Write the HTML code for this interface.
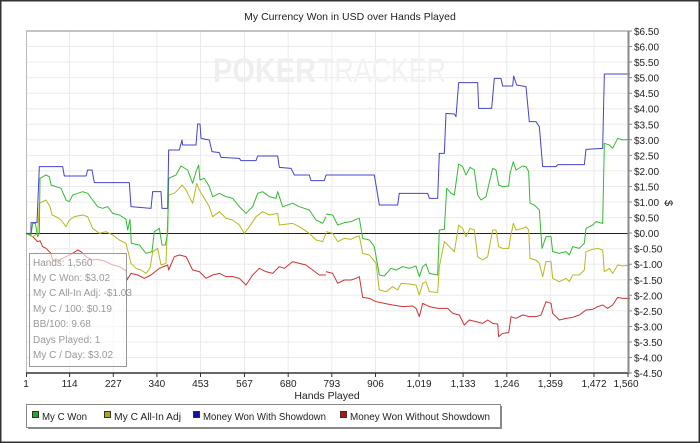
<!DOCTYPE html>
<html><head><meta charset="utf-8"><style>
html,body{margin:0;padding:0;background:#fff;}
svg{display:block;font-family:"Liberation Sans",sans-serif;}
</style></head><body>
<svg width="700" height="443" viewBox="0 0 700 443" xmlns="http://www.w3.org/2000/svg">
<rect x="0.5" y="0.5" width="699" height="442" fill="#fff" stroke="#333" stroke-width="2"/>
<text x="350" y="20" font-size="10.5" text-anchor="middle" fill="#222">My Currency Won in USD over Hands Played</text>
<g stroke="#ebebeb" stroke-width="1">
<path d="M69.6 31V373M113.3 31V373M156.9 31V373M200.5 31V373M244.5 31V373M288.2 31V373M331.8 31V373M375.5 31V373M419.1 31V373M463.1 31V373M506.8 31V373M550.4 31V373M594 31V373"/>
<path d="M26 46.5H628M26 62H628M26 77.6H628M26 93.2H628M26 108.7H628M26 124.3H628M26 139.8H628M26 155.4H628M26 170.9H628M26 186.5H628M26 202H628M26 217.6H628M26 248.7H628M26 264.2H628M26 279.8H628M26 295.3H628M26 310.9H628M26 326.5H628M26 342H628M26 357.5H628"/>
</g>
<text x="213" y="82" font-size="34" font-weight="bold" fill="#efefef" textLength="103" lengthAdjust="spacingAndGlyphs">POKER</text>
<text x="318" y="82" font-size="34" fill="#f2f2f2" textLength="128" lengthAdjust="spacingAndGlyphs">TRACKER</text>
<line x1="26" y1="31" x2="628" y2="31" stroke="#888"/>
<line x1="26.5" y1="31" x2="26.5" y2="373" stroke="#bbb"/>
<line x1="26" y1="233.5" x2="628" y2="233.5" stroke="#222" stroke-width="1"/>
<g fill="none" stroke-width="3" stroke-linejoin="round">
<g transform="translate(26,60) scale(0.33333)">
<polyline stroke="#cc3333" points="0,520 20,530 35,545 42,542 50,560 60,565 75,580 80,600 100,600 120,590 140,580 155,570 165,575 180,590 200,600 215,598 240,605 260,615 280,620 300,632 303,660 315,640 335,645 355,655 375,645 400,625 418,618 425,615 428,630 445,590 460,585 480,590 500,630 520,635 540,655 560,645 580,640 600,650 620,650 640,655 660,675 680,645 700,625 720,635 740,640 760,620 775,625 800,605 820,610 840,615 860,630 880,645 900,645"/>
<polyline stroke="#b8b81e" points="0,520 20,530 35,520 40,430 60,420 72,440 78,465 90,470 105,480 120,500 130,480 145,470 170,465 185,470 200,505 220,520 240,515 260,525 280,540 300,550 305,570 315,610 330,625 345,630 360,640 372,625 380,575 395,565 405,615 420,610 428,405 445,400 460,385 468,375 480,390 500,430 512,370 520,390 535,415 550,440 560,470 580,455 600,475 620,480 640,495 655,520 670,500 690,470 710,455 730,465 755,460 760,495 800,490 820,500 850,520 870,540 890,545 900,520"/>
<polyline stroke="#33bb33" points="0,520 15,525 20,490 28,490 35,530 40,520 42,355 60,345 70,350 75,375 90,380 105,385 120,420 130,425 140,405 155,400 170,395 185,400 200,420 215,440 230,445 245,440 260,460 280,465 300,478 305,510 312,478 316,550 340,555 360,580 378,575 385,515 400,505 408,555 418,555 425,520 428,355 450,345 465,318 485,330 500,370 510,335 518,315 522,360 535,355 550,380 560,410 580,400 600,410 620,415 640,440 660,460 680,440 695,400 710,395 730,410 750,415 755,395 770,440 800,430 820,440 850,450 870,480 890,490 900,470"/>
<polyline stroke="#4444cc" points="0,520 15,520 15,488 33,488 40,320 110,320 115,348 180,348 185,330 198,330 205,368 310,368 315,440 375,445 380,395 405,395 408,445 425,445 428,270 460,270 468,240 470,255 510,255 515,192 522,192 525,235 550,240 558,275 580,278 585,292 640,295 645,302 690,302 695,288 755,288 760,322 795,325 805,345 850,345 855,362 895,362 900,345"/>
</g>
<g transform="translate(326,60) scale(0.33333)">
<polyline stroke="#cc3333" points="0,635 20,640 35,670 55,660 75,660 90,655 100,650 110,712 130,715 150,725 175,730 200,735 230,740 260,738 270,745 280,770 290,730 310,740 335,745 365,745 380,760 400,765 415,795 430,780 450,785 470,790 485,780 500,790 515,792 518,830 530,820 548,818 555,770 570,775 590,765 610,770 630,770 645,765 660,725 675,730 680,760 700,780 720,775 740,772 760,765 780,750 800,748 815,740 830,735 845,745 860,735 875,712 890,715 912,715"/>
<polyline stroke="#b8b81e" points="0,515 20,520 35,545 55,535 75,538 90,530 100,528 110,580 130,585 150,610 160,690 180,695 200,680 215,690 225,670 250,672 270,675 280,705 290,670 300,665 310,695 335,697 340,620 355,545 375,565 385,575 398,495 410,505 420,530 432,505 445,510 455,590 470,600 485,590 500,510 510,510 518,560 530,565 548,565 552,540 562,490 570,510 590,505 600,500 608,510 612,595 630,600 640,610 650,650 660,605 675,605 680,655 700,665 720,655 730,665 740,645 760,645 775,630 780,575 800,568 815,565 830,570 835,635 850,625 860,640 875,615 890,618 912,615"/>
<polyline stroke="#33bb33" points="0,462 20,465 35,495 55,488 75,485 90,478 100,475 110,535 130,540 145,560 160,645 175,648 195,625 210,630 230,620 250,625 270,618 280,650 290,620 300,612 310,640 335,645 340,510 355,508 362,385 375,400 385,405 398,312 410,320 420,345 432,322 445,330 455,405 465,420 480,410 500,325 510,330 518,375 530,380 548,378 552,340 562,305 570,330 590,318 600,320 608,335 612,430 625,435 640,450 648,565 660,530 675,530 680,575 700,580 720,575 730,585 740,560 760,565 775,550 780,505 800,495 810,485 830,490 835,250 850,255 860,265 875,235 890,240 912,238"/>
<polyline stroke="#4444cc" points="0,345 145,345 160,435 215,435 220,400 305,400 310,415 335,415 340,280 355,280 360,160 385,162 390,170 398,68 455,68 458,145 497,145 505,55 525,55 530,78 560,78 563,48 572,75 600,80 610,185 630,185 640,200 650,320 690,320 695,314 775,314 780,268 830,265 835,42 912,42"/>
</g>
</g>
<rect x="29.5" y="253.5" width="97" height="113" fill="rgba(255,255,255,0.6)" stroke="#999"/>
<g font-size="10" fill="#999">
<text x="33" y="266">Hands: 1,560</text>
<text x="33" y="281">My C Won: $3.02</text>
<text x="33" y="296">My C All-In Adj: -$1.03</text>
<text x="33" y="312">My C / 100: $0.19</text>
<text x="33" y="327">BB/100: 9.68</text>
<text x="33" y="343">Days Played: 1</text>
<text x="33" y="358">My C / Day: $3.02</text>
</g>
<line x1="26" y1="373" x2="629" y2="373" stroke="#333" stroke-width="1.5"/>
<line x1="628.5" y1="31" x2="628.5" y2="374" stroke="#888" stroke-width="2"/>
<g stroke="#333"><path d="M26.5 373v4M69.6 373v4M113.3 373v4M156.9 373v4M200.5 373v4M244.5 373v4M288.2 373v4M331.8 373v4M375.5 373v4M419.1 373v4M463.1 373v4M506.8 373v4M550.4 373v4M594 373v4M628 373v4"/></g>
<g font-size="10" fill="#222" text-anchor="middle">
<text x="26" y="387">1</text><text x="69.6" y="387">114</text><text x="113.3" y="387">227</text><text x="156.9" y="387">340</text><text x="200.5" y="387">453</text><text x="244.5" y="387">567</text><text x="288.2" y="387">680</text><text x="331.8" y="387">793</text><text x="375.5" y="387">906</text><text x="419.1" y="387">1,019</text><text x="463.1" y="387">1,133</text><text x="506.8" y="387">1,246</text><text x="550.4" y="387">1,359</text><text x="594" y="387">1,472</text><text x="626" y="387">1,560</text>
</g>
<text x="327" y="399" font-size="10.5" text-anchor="middle" fill="#222">Hands Played</text>
<g stroke="#888"><path d="M628 31h4M628 46.5h4M628 62h4M628 77.6h4M628 93.2h4M628 108.7h4M628 124.3h4M628 139.8h4M628 155.4h4M628 170.9h4M628 186.5h4M628 202h4M628 217.6h4M628 233h4M628 248.7h4M628 264.2h4M628 279.8h4M628 295.3h4M628 310.9h4M628 326.5h4M628 342h4M628 357.5h4M628 373h4"/></g>
<g font-size="10" fill="#222">
<text x="634" y="35">$6.50</text><text x="634" y="50.5">$6.00</text><text x="634" y="66">$5.50</text><text x="634" y="81.6">$5.00</text><text x="634" y="97.2">$4.50</text><text x="634" y="112.7">$4.00</text><text x="634" y="128.3">$3.50</text><text x="634" y="143.8">$3.00</text><text x="634" y="159.4">$2.50</text><text x="634" y="174.9">$2.00</text><text x="634" y="190.5">$1.50</text><text x="634" y="206">$1.00</text><text x="634" y="221.6">$0.50</text><text x="634" y="237">$0.00</text><text x="634" y="252.7">$-0.50</text><text x="634" y="268.2">$-1.00</text><text x="634" y="283.8">$-1.50</text><text x="634" y="299.3">$-2.00</text><text x="634" y="314.9">$-2.50</text><text x="634" y="330.5">$-3.00</text><text x="634" y="346">$-3.50</text><text x="634" y="361.5">$-4.00</text><text x="634" y="377">$-4.50</text>
</g>
<text transform="translate(665,203) rotate(90)" font-size="11" text-anchor="middle" fill="#222">$</text>
<rect x="28" y="406" width="474" height="23" fill="#888"/>
<rect x="26.5" y="404.5" width="474" height="23" fill="#fff" stroke="#888"/>
<g stroke="#333" stroke-width="1">
<rect x="32.5" y="411.5" width="6" height="6" fill="#22aa22"/>
<rect x="104.5" y="411.5" width="6" height="6" fill="#aaaa10"/>
<rect x="193.5" y="411.5" width="6" height="6" fill="#1111aa"/>
<rect x="340.5" y="411.5" width="6" height="6" fill="#bb1111"/>
</g>
<g font-size="10" fill="#222">
<text x="42" y="420" textLength="45" lengthAdjust="spacingAndGlyphs">My C Won</text>
<text x="114" y="420" textLength="67" lengthAdjust="spacingAndGlyphs">My C All-In Adj</text>
<text x="203" y="420" textLength="123" lengthAdjust="spacingAndGlyphs">Money Won With Showdown</text>
<text x="350" y="420" textLength="140" lengthAdjust="spacingAndGlyphs">Money Won Without Showdown</text>
</g>
</svg>
</body></html>
